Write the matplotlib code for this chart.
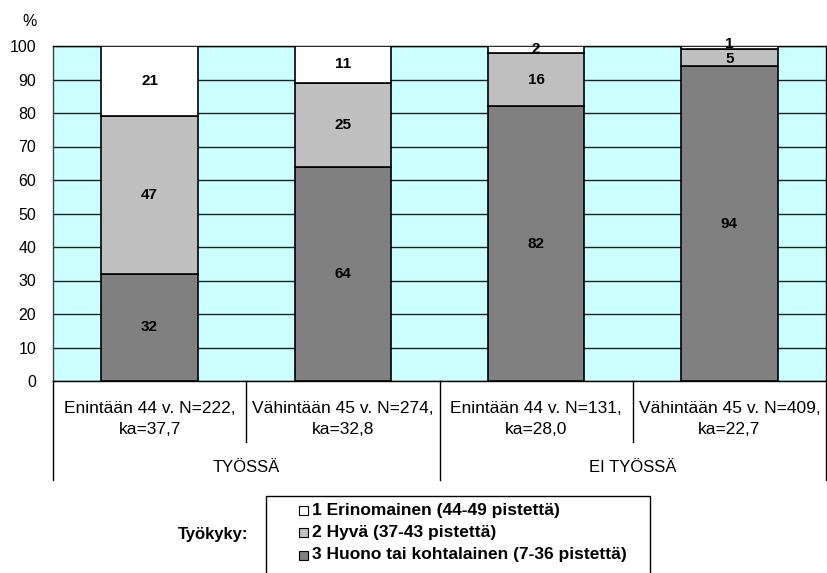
import matplotlib
matplotlib.use("Agg")
import matplotlib.pyplot as plt
import matplotlib.transforms as mtransforms
from matplotlib.lines import Line2D
from matplotlib.patches import Rectangle

plt.rcParams['font.family'] = ['Liberation Sans', 'DejaVu Sans']

# Data
categories = ["Enintään 44 v. N=222,\nka=37,7", "Vähintään 45 v. N=274,\nka=32,8",
              "Enintään 44 v. N=131,\nka=28,0", "Vähintään 45 v. N=409,\nka=22,7"]
groups = ["TYÖSSÄ", "EI TYÖSSÄ"]
huono = [32, 64, 82, 94]
hyva = [47, 25, 16, 5]
erinomainen = [21, 11, 2, 1]
series_names = ["1 Erinomainen (44-49 pistettä)", "2 Hyvä (37-43 pistettä)",
                "3 Huono tai kohtalainen (7-36 pistettä)"]
yticks = list(range(0, 101, 10))

W, H = 827, 573
fig = plt.figure(figsize=(W / 100, H / 100), dpi=100)
ax = fig.add_axes([53 / W, (H - 381) / H, 773 / W, 335 / H])
ax.set_facecolor('#CCFFFF')

x = list(range(len(categories)))
bw = 0.5
c_dark, c_light, c_white = '#808080', '#C0C0C0', '#FFFFFF'
ax.bar(x, huono, bw, color=c_dark, edgecolor='black', linewidth=1.2, zorder=3)
ax.bar(x, hyva, bw, bottom=huono, color=c_light, edgecolor='black', linewidth=1.2, zorder=3)
bottom3 = [a + b for a, b in zip(huono, hyva)]
ax.bar(x, erinomainen, bw, bottom=bottom3, color=c_white, edgecolor='black', linewidth=1.2, zorder=3)

# Segment value labels
for i in x:
    segs = [(0, huono[i]), (huono[i], hyva[i]), (bottom3[i], erinomainen[i])]
    for k, (b, v) in enumerate(segs):
        yc = b + v / 2
        if i == 3 and k == 1:
            yc = b + v / 2 - 0.5
        if i == 3 and k == 2:
            yc = b + v / 2 + 1.0
        ax.text(i, yc, str(v), ha='center', va='center', fontsize=11,
                fontweight='bold', zorder=5)

ax.set_xlim(-0.5, 3.5)
ax.set_ylim(0, 100)
ax.set_yticks(yticks)
ax.tick_params(axis='y', length=0, pad=12, labelsize=11.5)
ax.tick_params(axis='x', length=0, labelbottom=False)
ax.yaxis.grid(True, color='#202020', linewidth=1.0, zorder=1)
for s in ax.spines.values():
    s.set_color('black')
    s.set_linewidth(1.0)
ax.spines['left'].set_color('#404040')

fig.text(30 / W, 1 - 21 / H, '%', ha='center', va='center', fontsize=11.5)

# Two-level category axis
trans = mtransforms.blended_transform_factory(ax.transData, fig.transFigure)
def fy(py):
    return 1 - py / H
for xv, ybot in [(-0.5, 480), (0.5, 442), (1.5, 480), (2.5, 442), (3.5, 480)]:
    fig.add_artist(Line2D([xv, xv], [fy(381), fy(ybot)], transform=trans,
                          color='black', linewidth=1.0))
for i, lab in enumerate(categories):
    ax.text(i, fy(419), lab, transform=trans, ha='center', va='center',
            fontsize=12.5, linespacing=1.45)
for g, xc in zip(groups, [0.5, 2.5]):
    ax.text(xc, fy(467), g, transform=trans, ha='center', va='center', fontsize=12)

# Legend box with its entries
fig.add_artist(Rectangle((266 / W, fy(600)), (650 - 266) / W, (600 - 496) / H,
                         transform=fig.transFigure, facecolor='white',
                         edgecolor='black', linewidth=1.0))
for name, col, py in zip(series_names, (c_white, c_light, c_dark), (510, 532, 555)):
    fig.add_artist(Rectangle((299 / W, fy(py + 4.5)), 9 / W, 9 / H,
                             transform=fig.transFigure, facecolor=col,
                             edgecolor='black', linewidth=0.8))
    fig.text(312 / W, fy(py), name, ha='left', va='center', fontsize=12.5,
             fontweight='bold')
fig.text(213 / W, fy(535), 'Työkyky:', ha='center', va='center',
         fontsize=12, fontweight='bold')

fig.savefig('out.png', dpi=100)
